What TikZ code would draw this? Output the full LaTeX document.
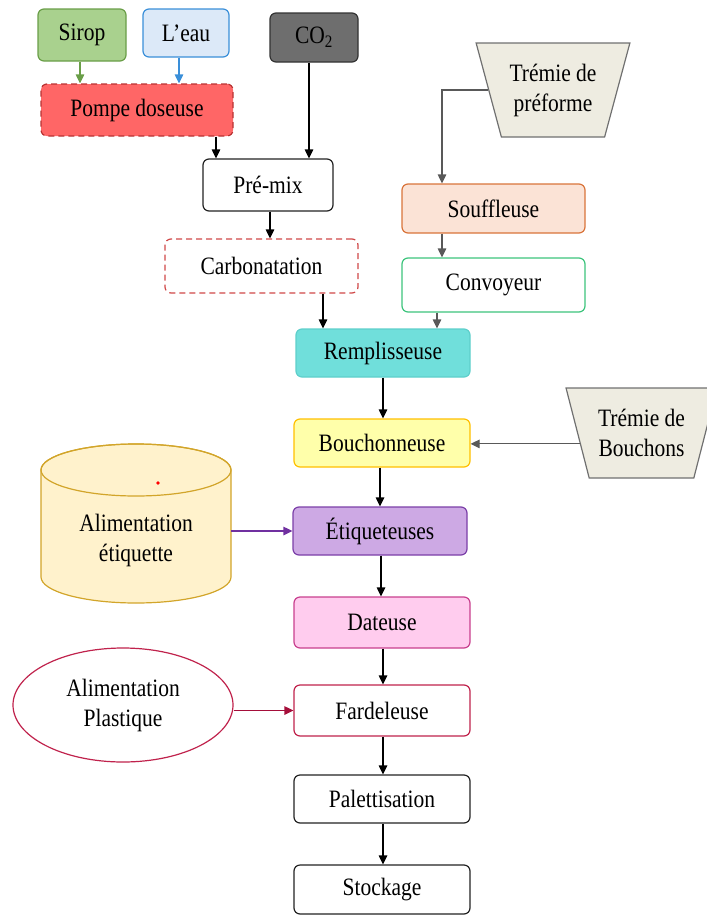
\documentclass[tikz,border=0pt]{standalone}
\usepackage{fontspec}
\setmainfont{Liberation Serif}[FakeStretch=0.86]
\usetikzlibrary{arrows.meta,shapes.geometric}

% colours of the process boxes
\definecolor{siropfill}{HTML}{A9D18E}\definecolor{siropline}{HTML}{6A9E48}
\definecolor{eaufill}{HTML}{DCE9F8}\definecolor{eauline}{HTML}{3A8FD9}
\definecolor{cofill}{HTML}{6E6E6E}\definecolor{coline}{HTML}{333333}
\definecolor{pompefill}{HTML}{FF6666}\definecolor{pompeline}{HTML}{B83232}
\definecolor{carboline}{HTML}{D04848}
\definecolor{rempfill}{HTML}{70DFDB}\definecolor{rempline}{HTML}{5ECFCB}
\definecolor{souffill}{HTML}{FBE3D6}\definecolor{soufline}{HTML}{D9743A}
\definecolor{convline}{HTML}{3CC47C}
\definecolor{tremfill}{HTML}{EEECE1}\definecolor{tremline}{HTML}{707070}
\definecolor{bouchfill}{HTML}{FFFFAA}\definecolor{bouchline}{HTML}{FFC000}
\definecolor{etiqfill}{HTML}{CDA9E4}\definecolor{etiqline}{HTML}{7B3FA8}
\definecolor{cylfill}{HTML}{FFF2CC}\definecolor{cylline}{HTML}{D2A52A}
\definecolor{datefill}{HTML}{FFCCEE}\definecolor{dateline}{HTML}{C8408E}
\definecolor{fardline}{HTML}{C0224C}
\definecolor{darkline}{HTML}{222222}
\definecolor{greyarrow}{HTML}{595959}
\definecolor{purplearrow}{HTML}{7030A0}
\definecolor{crimsonarrow}{HTML}{A50E3A}

\tikzset{
  box/.style={draw, line width=1.2pt, rounded corners=6pt, align=center,
    inner sep=2pt, font=\fontsize{25}{30}\selectfont},
  dashbox/.style={box, dash pattern=on 6pt off 4pt},
  trem/.style={trapezium, trapezium stretches=true, trapezium left angle=68,
    trapezium right angle=68, shape border rotate=180, draw=tremline,
    fill=tremfill, line width=1.2pt, align=center, inner sep=0pt,
    font=\fontsize{25}{30}\selectfont},
  flow/.style={line width=1.2pt, -{Triangle[length=9pt,width=8.5pt]}},
}

\begin{document}
\begin{tikzpicture}[x=1pt,y=-1pt]
\useasboundingbox (0,0) rectangle (707,916);

% raw materials and mixing
\node[box, fill=siropfill, draw=siropline, minimum width=88, minimum height=52] (sirop) at (82,35) {Sirop};
\node[box, fill=eaufill, draw=eauline, minimum width=86, minimum height=48] (eau) at (186,33) {L’eau};
\node[box, fill=cofill, draw=coline, minimum width=88, minimum height=49] (co2) at (314,37.5) {CO\textsubscript{2}};
\node[dashbox, fill=pompefill, draw=pompeline, minimum width=192, minimum height=52] (pompe) at (137,110) {Pompe doseuse};
\node[box, fill=white, draw=darkline, minimum width=130, minimum height=52] (premix) at (268,185) {Pré-mix};
\node[dashbox, fill=white, draw=carboline, minimum width=193, minimum height=54] (carbo) at (261.5,266) {Carbonatation};

% bottle forming
\node[trem, minimum width=154, minimum height=94] (tp) at (553,90) {Trémie de\\préforme};
\node[box, fill=souffill, draw=soufline, minimum width=183, minimum height=49] (souff) at (493.5,208.5) {Souffleuse};
\node[box, fill=white, draw=convline, minimum width=183, minimum height=54] (conv) at (493.5,285) {Convoyeur};

% main line
\node[box, fill=rempfill, draw=rempline, minimum width=174, minimum height=48] (remp) at (383,353) {Remplisseuse};
\node[box, fill=bouchfill, draw=bouchline, minimum width=176, minimum height=48] (bouch) at (382,443) {Bouchonneuse};
\node[trem, minimum width=151, minimum height=90] (tb) at (641.5,433) {Trémie de\\Bouchons};
\node[box, fill=etiqfill, draw=etiqline, minimum width=174, minimum height=48] (etiq) at (380,531) {Étiqueteuses};
\node[box, fill=datefill, draw=dateline, minimum width=176, minimum height=51] (date) at (382,622.5) {Dateuse};
\node[box, fill=white, draw=fardline, minimum width=176, minimum height=51] (fard) at (382,710.5) {Fardeleuse};
\node[box, fill=white, draw=darkline, minimum width=176, minimum height=48] (pal) at (382,799) {Palettisation};
\node[box, fill=white, draw=darkline, minimum width=176, minimum height=49] (stock) at (382,889.5) {Stockage};

% label feed: cylinder
\path[fill=cylfill, draw=cylline, line width=1.2pt]
  (41,470) -- (41,577) arc[start angle=180, end angle=0, x radius=95, y radius=26]
  -- (231,470) arc[start angle=0, end angle=-180, x radius=95, y radius=26] -- cycle;
\draw[cylline, line width=1.2pt] (136,470) ellipse [x radius=95, y radius=26];
\fill[red] (158,483) circle[radius=1.8];
\node[align=center, inner sep=0pt, minimum width=190, minimum height=160,
  font=\fontsize{25}{30}\selectfont] (cyl) at (136,540) {Alimentation\\étiquette};

% plastic feed: ellipse
\node[ellipse, draw=fardline, line width=1.2pt, fill=white, align=center, inner sep=0pt,
  minimum width=220, minimum height=114, font=\fontsize{25}{30}\selectfont] (ell) at (123,705) {Alimentation\\Plastique};

% connectors
\draw[flow, siropline] (sirop.south -| 80,0) -- (pompe.north -| 80,0);
\draw[flow, eauline] (eau.south -| 179,0) -- (pompe.north -| 179,0);
\draw[flow, black] (pompe.south -| 216,0) -- (premix.north -| 216,0);
\draw[flow, black] (co2.south -| 309,0) -- (premix.north -| 309,0);
\draw[flow, black] (premix.south -| 270,0) -- (carbo.north -| 270,0);
\draw[flow, black] (carbo.south -| 323,0) -- (remp.north -| 323,0);
\draw[flow, greyarrow] (tp.180) -| (souff.north -| 442,0);
\draw[flow, greyarrow] (souff.south -| 442,0) -- (conv.north -| 442,0);
\draw[flow, greyarrow] (conv.south -| 437,0) -- (remp.north -| 437,0);
\draw[flow, black] (remp.south -| 383,0) -- (bouch.north -| 383,0);
\draw[flow, greyarrow] (tb.190) -- (tb.190 -| bouch.east);
\draw[flow, black] (bouch.south -| 380,0) -- (etiq.north -| 380,0);
\draw[flow, purplearrow] (etiq.west -| cyl.east) -- (etiq.west);
\draw[flow, black] (etiq.south -| 381,0) -- (date.north -| 381,0);
\draw[flow, black] (date.south -| 383,0) -- (fard.north -| 383,0);
\draw[flow, crimsonarrow] (fard.west -| ell.east) -- (fard.west);
\draw[flow, black] (fard.south -| 383,0) -- (pal.north -| 383,0);
\draw[flow, black] (pal.south -| 383,0) -- (stock.north -| 383,0);
\end{tikzpicture}
\end{document}
